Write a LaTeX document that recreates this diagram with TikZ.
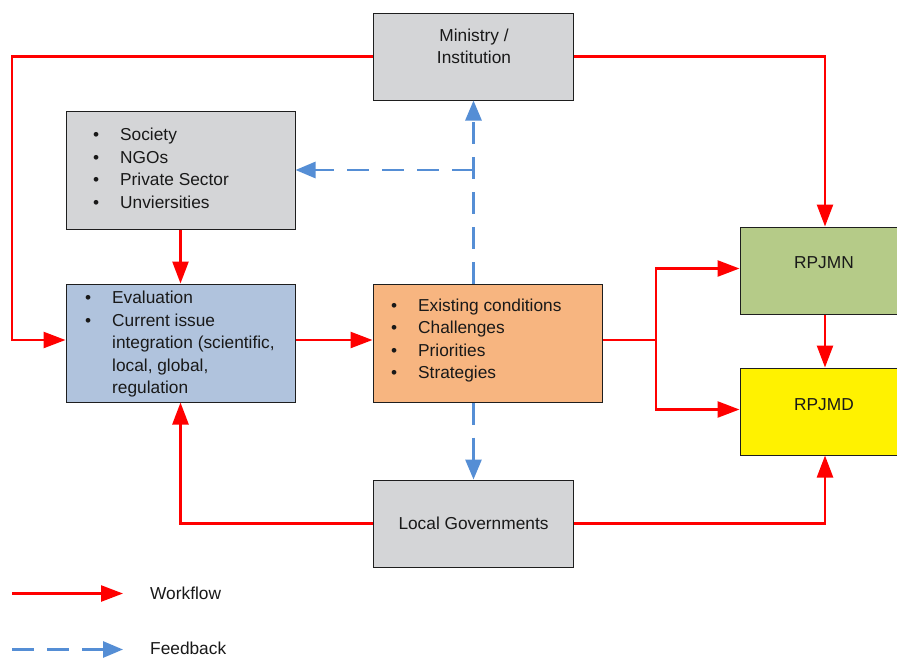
\documentclass[tikz,border=0pt]{standalone}
\usepackage{fontspec}
\setmainfont{Liberation Sans}
\usetikzlibrary{arrows.meta}
\definecolor{boxgray}{HTML}{D4D5D7}
\definecolor{boxblue}{HTML}{B0C3DD}
\definecolor{boxorange}{HTML}{F7B580}
\definecolor{boxgreen}{HTML}{B5CB88}
\definecolor{boxyellow}{HTML}{FFF200}
\definecolor{boxline}{HTML}{1E1E1E}
\definecolor{flowred}{HTML}{FF0000}
\definecolor{fbblue}{HTML}{558ED5}
\newcommand\itemlist[1]{\begin{tabular}{@{}p{27pt}@{}l@{}}#1\end{tabular}}
\begin{document}
\begin{tikzpicture}[x=1pt,y=-1pt,
  txt/.style={font=\fontsize{17.3}{22.5}\selectfont,inner sep=0pt,text=black!90},
  box/.style={draw=boxline,line width=1pt,inner sep=0pt,txt},
  wf/.style={draw=flowred,line width=2.5pt,-{Triangle[length=22pt,width=16pt]}},
  fb/.style={draw=fbblue,line width=2.8pt,dash pattern=on 22pt off 13pt,
             -{Triangle[length=20pt,width=16pt]}}]
\useasboundingbox (0,0) rectangle (897,657);
\clip (0,0) rectangle (897,657);
\fill[white] (0,0) rectangle (897,657);

% boxes
\node[box,fill=boxgray,minimum width=200pt,minimum height=87pt] (min) at (473.5,56.5) {};
\node[txt,align=center] (mintext) at (474,46.5) {Ministry /\\Institution};
\node[box,fill=boxgray,minimum width=229pt,minimum height=118pt] (soc) at (180.5,170) {};
\node[txt,anchor=west] (soctext) at (93,170)
  {\itemlist{\textbullet & Society\\ \textbullet & NGOs\\ \textbullet & Private Sector\\ \textbullet & Unviersities}};
\node[box,fill=boxblue,minimum width=229pt,minimum height=118pt] (eval) at (180.5,343) {};
\node[txt,anchor=west] (evaltext) at (85,344)
  {\itemlist{\textbullet & Evaluation\\ \textbullet & Current issue\\ & integration (scientific,\\ & local, global,\\ & regulation}};
\node[box,fill=boxorange,minimum width=229pt,minimum height=118pt] (cond) at (487.5,343) {};
\node[txt,anchor=west] (condtext) at (391,340.5)
  {\itemlist{\textbullet & Existing conditions\\ \textbullet & Challenges\\ \textbullet & Priorities\\ \textbullet & Strategies}};
\node[box,fill=boxgreen,minimum width=170pt,minimum height=87pt] (rpjmn) at (825,270.5) {};
\node[txt] (rpjmntext) at (824,263) {RPJMN};
\node[box,fill=boxyellow,minimum width=170pt,minimum height=87pt] (rpjmd) at (825,411.5) {};
\node[txt] (rpjmdtext) at (824,405) {RPJMD};
\node[box,fill=boxgray,minimum width=200pt,minimum height=87pt] (local) at (473.5,523.5) {Local Governments};

% workflow connectors
\coordinate (lcorner) at (12,56.5);
\coordinate (rcorner) at (825,56.5);
\coordinate (split) at (656,340);
\draw[wf] (min.west) -- (lcorner) |- ([yshift=3pt]eval.west);
\draw[wf] (min.east) -- (rcorner) -- (rpjmn.north);
\draw[wf] (soc.south) -- (eval.north);
\draw[wf] ([yshift=3pt]eval.east) -- ([yshift=3pt]cond.west);
\draw[wf] ([yshift=3pt]cond.east) -- (split) |- ([yshift=2pt]rpjmn.west);
\draw[wf] (split) |- ([yshift=2pt]rpjmd.west);
\draw[wf] (rpjmn.south) -- (rpjmd.north);
\draw[wf] (local.west) -| (eval.south);
\draw[wf] (local.east) -| (rpjmd.south);

% feedback connectors
\coordinate (fbjoin) at (min.south |- soc.east);
\draw[fb] (cond.north -| min.south) -- (min.south);
\draw[fb] (fbjoin) -- (soc.east);
\draw[fb] (cond.south -| local.north) -- (local.north);

% legend
\coordinate (wfa) at (12,593.5);
\coordinate (wfb) at (123,593.5);
\coordinate (fba) at (12,649.5);
\coordinate (fbb) at (123,649.5);
\draw[wf] (wfa) -- (wfb);
\draw[fb] (fba) -- (fbb);
\node[txt,anchor=west] (wflabel) at (150,593.5) {Workflow};
\node[txt,anchor=west] (fblabel) at (150,648) {Feedback};
\end{tikzpicture}
\end{document}
